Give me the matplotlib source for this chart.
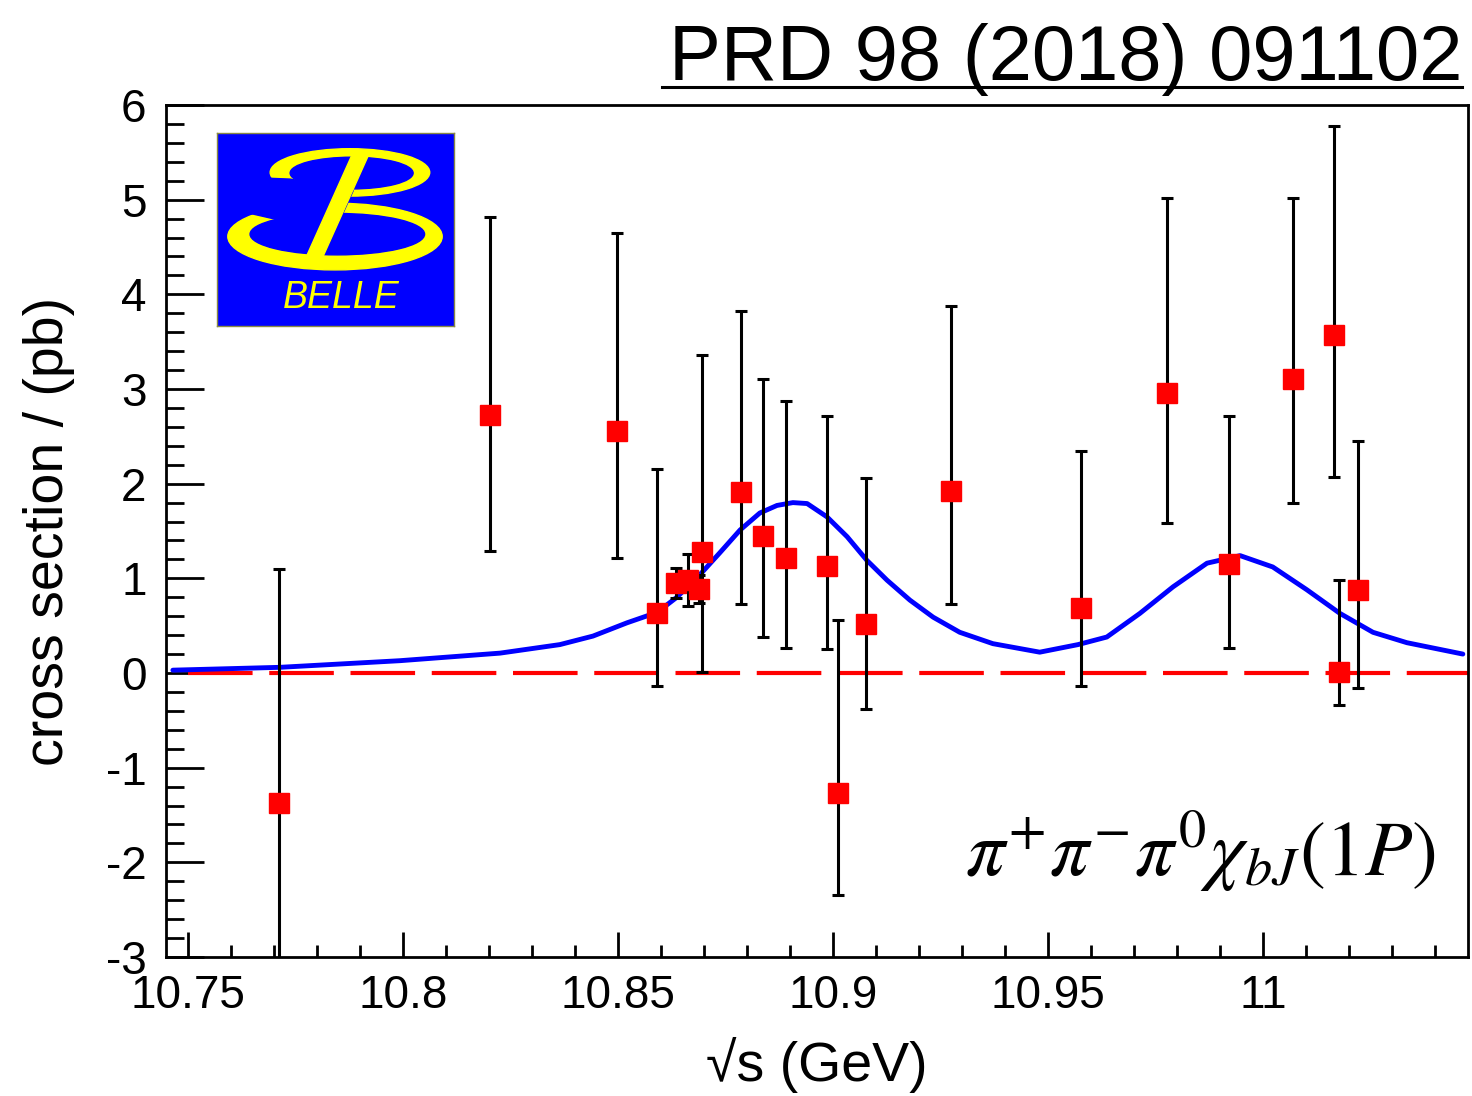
import matplotlib
matplotlib.use("Agg")
import matplotlib.pyplot as plt
from matplotlib.patches import Ellipse, Polygon
from matplotlib.lines import Line2D
from matplotlib.ticker import MultipleLocator

plt.rcParams["font.family"] = ["Liberation Sans", "DejaVu Sans"]
plt.rcParams["mathtext.fontset"] = "stix"

# measured cross sections (pb)
sqrt_s = [10.7712, 10.8202, 10.8498, 10.8591, 10.8635, 10.8663, 10.8688, 10.8695,
          10.8786, 10.8837, 10.8891, 10.8986, 10.9012, 10.9077, 10.9274, 10.9577,
          10.9777, 10.9921, 11.0070, 11.0165, 11.0177, 11.0221]
xsec = [-1.37, 2.73, 2.56, 0.63, 0.95, 0.98, 0.89, 1.28,
        1.91, 1.45, 1.21, 1.13, -1.27, 0.52, 1.92, 0.69,
        2.96, 1.15, 3.11, 3.57, 0.01, 0.88]
err_hi = [1.10, 4.82, 4.65, 2.15, 1.11, 1.26, 1.04, 3.36,
          3.82, 3.11, 2.87, 2.71, 0.56, 2.06, 3.88, 2.35,
          5.02, 2.71, 5.02, 5.78, 0.98, 2.45]
err_lo = [-3.6, 1.29, 1.21, -0.14, 0.79, 0.71, 0.74, 0.01,
          0.73, 0.38, 0.26, 0.25, -2.35, -0.38, 0.73, -0.14,
          1.58, 0.26, 1.80, 2.07, -0.34, -0.16]

# fit curve
fit_x = [10.7465, 10.7714, 10.7993, 10.8226, 10.8365, 10.8442, 10.8521, 10.8591,
         10.8637, 10.8691, 10.8737, 10.8784, 10.8830, 10.8870, 10.8907, 10.8940,
         10.8986, 10.9033, 10.9079, 10.9126, 10.9179, 10.9233, 10.9295, 10.9372,
         10.9481, 10.9570, 10.9637, 10.9714, 10.9791, 10.9870, 10.9947, 11.0023,
         11.0102, 11.0179, 11.0256, 11.0335, 11.0465]
fit_y = [0.03, 0.06, 0.13, 0.21, 0.30, 0.39, 0.53, 0.64,
         0.80, 1.04, 1.27, 1.51, 1.69, 1.77, 1.80, 1.79,
         1.65, 1.44, 1.19, 0.98, 0.77, 0.59, 0.43, 0.31,
         0.22, 0.30, 0.38, 0.63, 0.91, 1.16, 1.24, 1.12,
         0.88, 0.63, 0.43, 0.32, 0.20]

W, H = 1472, 1096
fig = plt.figure(figsize=(W / 100, H / 100), dpi=100)
ax = fig.add_axes([166 / W, 1 - 957 / H, (1468 - 166) / W, (957 - 105) / H])

ax.plot(fit_x, fit_y, color="#0000ff", lw=3.5, zorder=3,
        solid_joinstyle="round", solid_capstyle="round")
ax.plot([10.75, 11.06], [0, 0], color="#ff0000", lw=3, dashes=(15.5, 4), zorder=2)

ylo = [v - l for v, l in zip(xsec, err_lo)]
yhi = [h - v for v, h in zip(xsec, err_hi)]
ax.errorbar(sqrt_s, xsec, yerr=[ylo, yhi], fmt="none", ecolor="black",
            elinewidth=2.2, capsize=4.5, capthick=2.2, zorder=4)
ax.plot(sqrt_s, xsec, "s", color="#ff0000", ms=14.5, mec="#ff0000", zorder=5)

ax.set_xlim(10.7449, 11.0477)
ax.set_ylim(-3, 6)
ax.xaxis.set_minor_locator(MultipleLocator(0.01))
ax.yaxis.set_minor_locator(MultipleLocator(0.2))
ax.set_xticks([10.75, 10.8, 10.85, 10.9, 10.95, 11.0])
ax.set_xticklabels(["10.75", "10.8", "10.85", "10.9", "10.95", "11"])
ax.set_yticks(range(-3, 7))
ax.set_yticklabels([str(v) for v in range(-3, 7)])
ax.tick_params(which="both", direction="in", width=2, top=False, right=False,
               labelsize=33)
ax.tick_params(axis="x", which="major", length=18, pad=12)
ax.tick_params(axis="x", which="minor", length=8.5)
ax.tick_params(axis="y", which="major", length=27, pad=14)
ax.tick_params(axis="y", which="minor", length=13)
for s in ax.spines.values():
    s.set_linewidth(2)

ax.set_xlabel("\u221as (GeV)", fontsize=40, labelpad=14)
ax.set_ylabel("cross section / (pb)", fontsize=40, labelpad=22)

ax.text(0.975, 0.095, r"$\pi^{+}\pi^{-}\pi^{0}\chi_{bJ}(1P)$", transform=ax.transAxes,
        ha="right", va="baseline", fontsize=56)

fig.text(1462 / W, 1 - 80 / H, "PRD 98 (2018) 091102", ha="right", va="baseline",
         fontsize=56)
fig.add_artist(Line2D([662 / W, 1462 / W], [1 - 87 / H, 1 - 87 / H], color="black", lw=2.2))

# Belle logo
lg = fig.add_axes([217 / W, 1 - 326 / H, (454 - 217) / W, (326 - 133) / H])
lg.set_xlim(50, 763)
lg.set_ylim(618, 40)
lg.set_facecolor("#0000ff")
lg.set_xticks([])
lg.set_yticks([])
for s in lg.spines.values():
    s.set_color("#888844")
    s.set_linewidth(1)
yel = "#ffff00"
blue = "#0000ff"
lg.add_patch(Ellipse((405, 350), 645, 200, color=yel))
lg.add_patch(Ellipse((412, 343), 525, 124, color=blue))
lg.add_patch(Ellipse((450, 158), 480, 142, color=yel))
lg.add_patch(Ellipse((455, 160), 370, 95, color=blue))
lg.add_patch(Polygon([(60, 170), (270, 178), (460, 212), (430, 278), (225, 298),
                      (155, 282), (60, 300)], color=blue))
lg.add_patch(Polygon([(455, 108), (505, 108), (368, 412), (318, 412)], color=yel))
lg.text(423, 535, "BELLE", color=yel, fontsize=27, style="italic",
        ha="center", va="center")

fig.savefig("out.png", dpi=100)
